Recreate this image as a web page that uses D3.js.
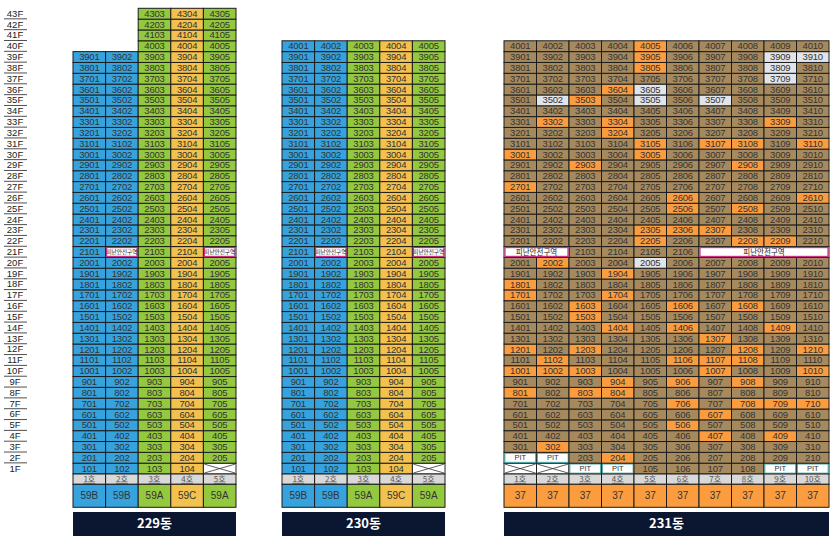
<!DOCTYPE html>
<html><head><meta charset="utf-8">
<script src="https://cdn.jsdelivr.net/npm/d3@7"></script>
<style>body{margin:0;background:#fff}svg{display:block}</style>
</head><body><svg id="c" width="836" height="547"></svg>
<script>
// ---------- data ----------
const floors = d3.range(43, 0, -1);            // 43F .. 1F
const floorLabels = floors.map(f => f + "F");
const hoLabels10 = d3.range(1, 11).map(i => i + "호");

const b229Types = ["59B", "59B", "59A", "59C", "59A"];
const b229Top   = [39, 39, 43, 43, 43];
const b229Refuge = [2102, 2105];
const b229X = [105];

const b230Types = ["59B", "59B", "59A", "59C", "59A"];
const b230Top   = [40, 40, 40, 40, 40];
const b230Refuge = [2102, 2105];
const b230X = [105];

const b231Types = ["37","37","37","37","37","37","37","37","37","37"];
const b231Top   = [40,40,40,40,40,40,40,40,40,40];
const b231Orange = [4005,3905,3805,3604,3503,3302,3304,3309,3204,3105,3107,3108,3110,
  3001,3005,2903,2908,2701,2606,2610,2506,2508,2305,2306,2307,2205,2208,2209,
  2002,1904,1801,1701,1704,1603,1606,1608,1503,1404,1406,1409,1307,
  1201,1203,1208,1210,1102,1106,1107,1108,1001,1002,1003,1007,1010,
  904,906,908,801,803,804,706,708,709,710,607,506,407,409,302,204];
const b231Grey = [3909,3910,3809,3709,3605,3502,3505,3507,2005];
const b231Pit = [201,202,103,104,109,110];
const b231X = [101,102];
const b231RefugeSpans = [[21,1,2],[21,7,10]];
const b231Refuge = [2101,2102,2107,2108,2109,2110];

const buildings = [
  {name:"229동", types:b229Types, top:b229Top, refuge:b229Refuge, x:b229X, pit:[], orange:[], grey:[], spans:[], x0:73, x1:236},
  {name:"230동", types:b230Types, top:b230Top, refuge:b230Refuge, x:b230X, pit:[], orange:[], grey:[], spans:[], x0:282, x1:445},
  {name:"231동", types:b231Types, top:b231Top, refuge:b231Refuge, x:b231X, pit:b231Pit, orange:b231Orange, grey:b231Grey, spans:b231RefugeSpans, x0:504, x1:829}
];

const typeColor = {"59B":"#36a3de","59A":"#93c83f","59C":"#f2c14e","37":"#a68a5e"};
const typeRowColor = {"59B":"#36a3de","59A":"#93c83f","59C":"#f2c14e","37":"#fb9d3f"};
const ORANGE = "#fb9d3f", GREY = "#e1e4e9";

// ---------- drawing ----------
const svg = d3.select("#c");
const y = d3.scaleBand().domain(floors).range([8.3, 474]).paddingInner(0);
const rh = y.bandwidth();
const hoY = 474, hoH = 10.3, typeY = 484.3, typeH = 23, barY = 512, barH = 24;
const font = "'Liberation Sans', Arial, sans-serif";
const kfont = "'Noto Sans CJK KR', sans-serif";

// floor labels
const fl = svg.append("g");
floors.forEach((f, i) => {
  fl.append("text").attr("x", 15).attr("y", y(f) + rh / 2 + 0.5)
    .attr("text-anchor", "middle").attr("dominant-baseline", "middle")
    .attr("font-family", font).attr("font-size", 9.5).attr("fill", "#222")
    .text(floorLabels[i]);
  if (f !== 1) fl.append("line").attr("x1", 4).attr("x2", 27)
    .attr("y1", y(f) + rh - 0.3).attr("y2", y(f) + rh - 0.3)
    .attr("stroke", "#222").attr("stroke-width", 0.8);
});

buildings.forEach(b => {
  const cols = d3.range(1, b.types.length + 1);
  const x = d3.scaleBand().domain(cols).range([b.x0, b.x1]);
  const cw = x.bandwidth();
  const g = svg.append("g");
  cols.forEach(c => {
    for (let f = 1; f <= b.top[c - 1]; f++) {
      const id = f * 100 + c;
      if (b.refuge.includes(id) && b.spans.length) continue;
      const cx = x(c), cy = y(f);
      if (b.refuge.includes(id)) {
        g.append("rect").attr("x", cx).attr("y", cy).attr("width", cw).attr("height", rh)
          .attr("fill", "#fff").attr("stroke", "#222").attr("stroke-width", 1);
        g.append("rect").attr("x", cx + 1).attr("y", cy + 1).attr("width", cw - 2).attr("height", rh - 2)
          .attr("fill", "#fff").attr("stroke", "#cc2f86").attr("stroke-width", 1.2);
        g.append("text").attr("x", cx + cw / 2).attr("y", cy + rh / 2 + 0.5)
          .attr("text-anchor", "middle").attr("dominant-baseline", "middle")
          .attr("font-family", kfont).attr("font-size", 5.6).attr("fill", "#222").text("피난안전구역");
        continue;
      }
      if (b.x.includes(id)) {
        g.append("rect").attr("x", cx).attr("y", cy).attr("width", cw).attr("height", rh)
          .attr("fill", "#fff").attr("stroke", "#222").attr("stroke-width", 1);
        g.append("path").attr("d", `M${cx+1},${cy+1}L${cx+cw-1},${cy+rh-1}M${cx+cw-1},${cy+1}L${cx+1},${cy+rh-1}`)
          .attr("stroke", "#333").attr("stroke-width", 0.8);
        continue;
      }
      if (b.pit.includes(id)) {
        g.append("rect").attr("x", cx).attr("y", cy).attr("width", cw).attr("height", rh)
          .attr("fill", "#fff").attr("stroke", "#222").attr("stroke-width", 1);
        g.append("rect").attr("x", cx + 0.8).attr("y", cy + 0.8).attr("width", cw - 1.6).attr("height", rh - 1.6)
          .attr("fill", "#fff").attr("stroke", "#3a9a9a").attr("stroke-width", 1);
        g.append("text").attr("x", cx + cw / 2).attr("y", cy + rh / 2 + 0.5)
          .attr("text-anchor", "middle").attr("dominant-baseline", "middle")
          .attr("font-family", font).attr("font-size", 7.5).attr("fill", "#333").text("PIT");
        continue;
      }
      let fill = typeColor[b.types[c - 1]];
      if (b.orange.includes(id)) fill = ORANGE;
      if (b.grey.includes(id)) fill = GREY;
      g.append("rect").attr("x", cx).attr("y", cy).attr("width", cw).attr("height", rh)
        .attr("fill", fill).attr("stroke", "#1c1c1c").attr("stroke-width", 1);
      g.append("text").attr("x", cx + cw / 2).attr("y", cy + rh / 2 + 0.6)
        .attr("text-anchor", "middle").attr("dominant-baseline", "middle")
        .attr("font-family", font).attr("font-size", 9.5).attr("fill", "#333")
        .attr("letter-spacing", -0.2).text(id);
    }
  });
  // refuge spans
  b.spans.forEach(([f, c0, c1]) => {
    const sx = x(c0), sw = x(c1) + cw - x(c0), sy = y(f);
    g.append("rect").attr("x", sx).attr("y", sy).attr("width", sw).attr("height", rh)
      .attr("fill", "#fff").attr("stroke", "#222").attr("stroke-width", 1);
    g.append("rect").attr("x", sx + 1).attr("y", sy + 1).attr("width", sw - 2).attr("height", rh - 2)
      .attr("fill", "#fff").attr("stroke", "#cc2f86").attr("stroke-width", 1.2);
    g.append("text").attr("x", sx + sw / 2).attr("y", sy + rh / 2 + 0.5)
      .attr("text-anchor", "middle").attr("dominant-baseline", "middle")
      .attr("font-family", kfont).attr("font-size", 7.5).attr("fill", "#222").text("피난안전구역");
  });
  // 호 row
  cols.forEach(c => {
    g.append("rect").attr("x", x(c)).attr("y", hoY).attr("width", cw).attr("height", hoH)
      .attr("fill", "#d9d9d9").attr("stroke", "#1c1c1c").attr("stroke-width", 1);
    g.append("text").attr("x", x(c) + cw / 2).attr("y", hoY + hoH / 2 + 0.5)
      .attr("text-anchor", "middle").attr("dominant-baseline", "middle")
      .attr("font-family", kfont).attr("font-size", 8).attr("fill", "#555")
      .attr("text-decoration", "underline").text(hoLabels10[c - 1]);
    // type row
    g.append("rect").attr("x", x(c)).attr("y", typeY).attr("width", cw).attr("height", typeH)
      .attr("fill", typeRowColor[b.types[c - 1]]).attr("stroke", "#1c1c1c").attr("stroke-width", 1);
    g.append("text").attr("x", x(c) + cw / 2).attr("y", typeY + typeH / 2 + 0.5)
      .attr("text-anchor", "middle").attr("dominant-baseline", "middle")
      .attr("font-family", font).attr("font-size", 10).attr("fill", "#333").text(b.types[c - 1]);
  });
  // name bar
  g.append("rect").attr("x", b.x0).attr("y", barY).attr("width", b.x1 - b.x0).attr("height", barH)
    .attr("fill", "#0b1631");
  g.append("text").attr("x", (b.x0 + b.x1) / 2).attr("y", barY + barH / 2 + 0.5)
    .attr("text-anchor", "middle").attr("dominant-baseline", "middle")
    .attr("font-family", kfont).attr("font-weight", "bold").attr("font-size", 13)
    .attr("fill", "#fff").text(b.name);
});
</script></body></html>
